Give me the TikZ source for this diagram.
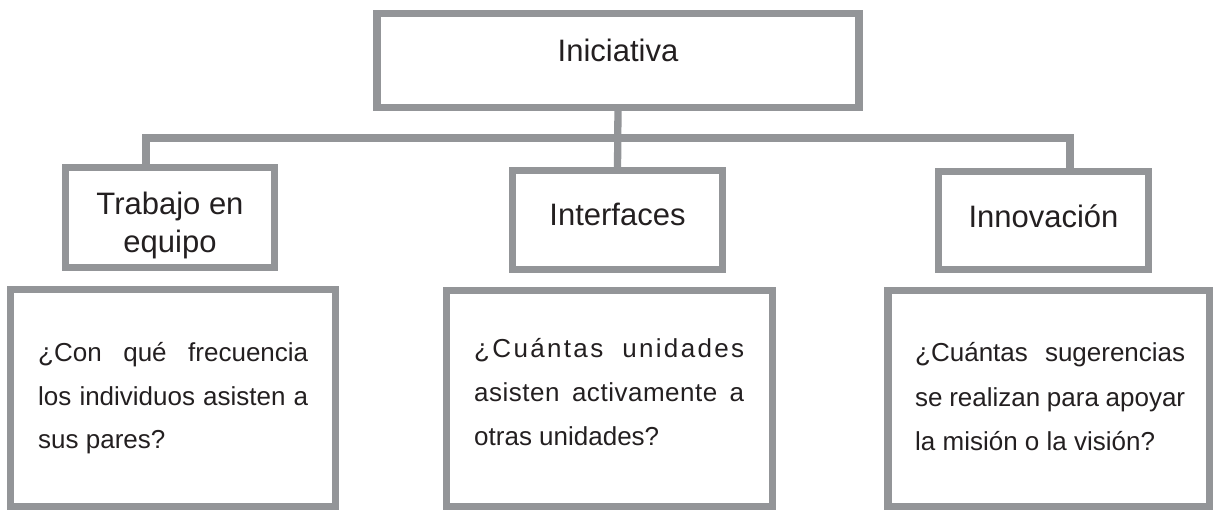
\documentclass[tikz,border=0pt]{standalone}
\usepackage{fontspec}
\setmainfont{Liberation Sans}
\definecolor{boxgray}{HTML}{939598}
\definecolor{txt}{HTML}{231F20}
\tikzset{
  box/.style={draw=boxgray, line width=7.3pt, rectangle, inner sep=0pt, outer sep=0pt},
  conn/.style={draw=boxgray, line width=7.3pt},
  lbl/.style={text=txt, font=\fontsize{31}{38}\selectfont, inner sep=0pt, anchor=base},
  qtext/.style={text=txt, font=\fontsize{26}{43.5}\selectfont, inner sep=0pt, anchor=base west},
}
\begin{document}
\begin{tikzpicture}[x=1pt,y=-1pt]
\useasboundingbox (0,0) rectangle (1213,510);
% title box
\node[box, minimum width=482pt, minimum height=93.6pt] (top) at (618,60.5) {};
\node[lbl] (topt) at (618,62) {Iniciativa};
% second level boxes
\node[box, minimum width=209pt, minimum height=100pt] (trab) at (170,217.5) {};
\node[lbl] (trabt) at (170,215) {\begin{tabular}[t]{@{}c@{}}Trabajo en\\equipo\end{tabular}};
\node[box, minimum width=210pt, minimum height=99pt] (intf) at (617.5,220) {};
\node[lbl] (intft) at (617.5,226) {Interfaces};
\node[box, minimum width=210pt, minimum height=98pt] (innov) at (1043.5,220.5) {};
\node[lbl] (innovt) at (1043.5,228) {Innovación};
% question boxes
\node[box, minimum width=325pt, minimum height=217pt] (q1) at (173,398) {};
\node[box, minimum width=326pt, minimum height=216pt] (q2) at (609.5,398.5) {};
\node[box, minimum width=321.5pt, minimum height=216pt] (q3) at (1048.75,398.5) {};
\node[qtext] (q1t) at (38,362) {\parbox[t]{270pt}{\fontsize{26}{43.5}\selectfont
  \makebox[270pt][s]{¿Con qué frecuencia}\\
  \makebox[270pt][s]{los individuos asisten a}\\
  sus pares?}};
\node[qtext] (q2t) at (474,358) {\parbox[t]{270pt}{\fontsize{26}{44}\selectfont
  {\addfontfeature{LetterSpace=9}\makebox[270pt][s]{¿Cuántas unidades}}\\
  {\addfontfeature{LetterSpace=2}\makebox[270pt][s]{asisten activamente a}}\\
  otras unidades?}};
\node[qtext] (q3t) at (915,362) {\parbox[t]{270pt}{\fontsize{26}{44.5}\selectfont
  \makebox[270pt][s]{¿Cuántas sugerencias}\\
  \makebox[270pt][s]{se realizan para apoyar}\\
  la misión o la visión?}};
% connectors
\coordinate (hl) at (146,138);
\coordinate (hr) at (1070,138);
\draw[conn] (top.south) -- (intf.north);
\draw[conn] (trab.north -| hl) -- (hl) -- (hr) -- (innov.north -| hr);
\end{tikzpicture}
\end{document}
